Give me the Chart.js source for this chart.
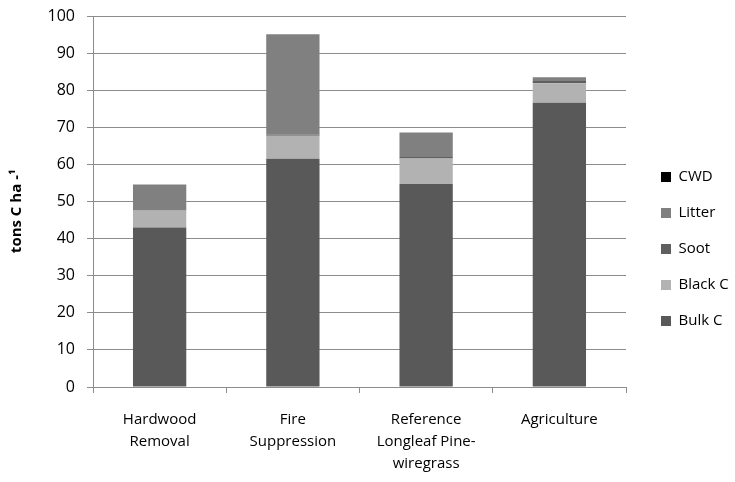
<!DOCTYPE html>
<html>
<head>
<meta charset="utf-8">
<script src="https://cdn.jsdelivr.net/npm/chart.js@4/dist/chart.umd.min.js"></script>
<style>
  html, body { margin: 0; padding: 0; background: #fff; }
  #wrap { width: 735px; height: 482px; position: relative; }
</style>
</head>
<body>
<div id="wrap"><canvas id="c"></canvas></div>
<script>
// categories (multi-line labels as drawn under the axis)
const categories = [
  ['Hardwood', 'Removal'],
  ['Fire', 'Suppression'],
  ['Reference', 'Longleaf Pine-', 'wiregrass'],
  ['Agriculture']
];
// stacked components, tons C per ha
const bulkC  = [43.0, 61.5, 54.7, 76.6];
const blackC = [4.6, 6.2, 6.9, 5.3];
const soot   = [0.1, 0.3, 0.4, 0.6];
const litter = [6.9, 27.1, 6.6, 1.0];
const cwd    = [0, 0, 0, 0];
const yTicks = [0, 10, 20, 30, 40, 50, 60, 70, 80, 90, 100];

const FONT = "'Open Sans', 'Liberation Sans', sans-serif";

const datasets = [
  { label: 'Bulk C',  data: bulkC,  backgroundColor: '#595959' },
  { label: 'Black C', data: blackC, backgroundColor: '#b2b2b2' },
  { label: 'Soot',    data: soot,   backgroundColor: '#5f5f5f' },
  { label: 'Litter',  data: litter, backgroundColor: '#808080' },
  { label: 'CWD',     data: cwd,    backgroundColor: '#000000' }
].map(d => Object.assign(d, { barPercentage: 0.4, categoryPercentage: 1.0, borderWidth: 0 }));

new Chart(document.getElementById('c'), {
  type: 'bar',
  data: { labels: categories, datasets },
  options: {
    responsive: true,
    maintainAspectRatio: false,
    animation: false,
    layout: { padding: { left: 4, right: 2, top: 16, bottom: 0 } },
    plugins: {
      tooltip: { enabled: false },
      legend: {
        position: 'right',
        reverse: true,
        maxWidth: 93,
        labels: {
          boxWidth: 10, boxHeight: 10, padding: 21,
          color: '#000', font: { family: FONT, size: 15 }
        }
      }
    },
    scales: {
      x: {
        stacked: true,
        afterFit: s => { s.height = 95; },
        grid: { display: true, drawOnChartArea: false, offset: true, tickLength: 6, color: '#8c8c8c' },
        border: { color: '#8c8c8c' },
        ticks: {
          color: '#000', font: { family: FONT, size: 15, lineHeight: 1.45 },
          maxRotation: 0, autoSkip: false, padding: 16
        }
      },
      y: {
        stacked: true,
        min: 0, max: 100,
        afterBuildTicks: s => { s.ticks = yTicks.map(v => ({ value: v })); },
        afterFit: s => { s.width = 89; s.paddingTop = 0; s.paddingBottom = 0; },
        grid: { color: '#8c8c8c', tickLength: 6 },
        border: { color: '#8c8c8c' },
        ticks: { color: '#000', font: { family: FONT, size: 16 }, padding: 12 },
        title: {
          display: true, text: 'tons C ha -\u00b9\u00a0\u00a0\u00a0\u00a0\u00a0', color: '#000',
          font: { family: FONT, size: 15, weight: 'bold' }, padding: { bottom: 6 }
        }
      },
      // empty spacer between plot and legend
      gap: {
        type: 'linear', position: 'right', display: true,
        afterFit: s => { s.width = 14; },
        grid: { display: false }, border: { display: false }, ticks: { display: false }
      }
    }
  }
});
</script>
</body>
</html>
